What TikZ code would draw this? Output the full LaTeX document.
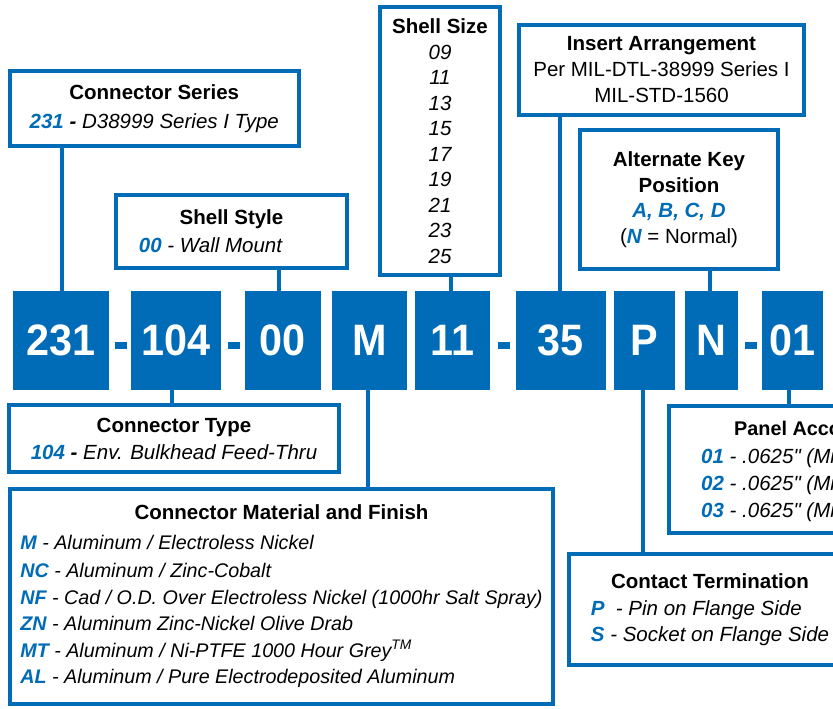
\documentclass[tikz,border=0pt]{standalone}
\usepackage{fontspec}
\setmainfont{Liberation Sans}
\newfontfamily\rawfont{Liberation Sans}
\definecolor{cblue}{RGB}{0,107,182}
\newcommand{\bk}[1]{{\color{cblue}\bfseries\itshape #1}}
\newcommand{\inch}{{\rawfont\itshape"}}
\begin{document}
\begin{tikzpicture}[x=1pt,y=-1pt,
  callout/.style={draw=cblue,line width=4pt,inner sep=0pt,fill=white,
    font=\fontsize{20.5}{26}\selectfont},
  code/.style={fill=cblue,inner sep=0pt,text=white,minimum height=99pt,
    font=\fontsize{44}{44}\selectfont\bfseries},
  dashbar/.style={fill=cblue,inner sep=0pt,minimum width=12pt,minimum height=7pt},
  link/.style={draw=cblue,line width=4pt},
  txt/.style={inner sep=0pt,font=\fontsize{20.5}{27}\selectfont}]
\useasboundingbox (0,0) rectangle (833,709);
\clip (0,0) rectangle (833,709);

% code blocks
\node[code,minimum width=96pt]   (c231) at (61,340.5)   {\scalebox{0.94}[1]{231}};
\node[code,minimum width=90pt]   (c104) at (176,340.5)  {\scalebox{0.94}[1]{104}};
\node[code,minimum width=76pt]   (c00)  at (283,340.5)  {\scalebox{0.94}[1]{00}};
\node[code,minimum width=75pt]   (cM)   at (369.5,340.5){\scalebox{0.94}[1]{M}};
\node[code,minimum width=75pt]   (c11)  at (452.5,340.5){\scalebox{0.94}[1]{11}};
\node[code,minimum width=89.5pt] (c35)  at (560.75,340.5){\scalebox{0.94}[1]{35}};
\node[code,minimum width=61pt]   (cP)   at (644.5,340.5){\scalebox{0.94}[1]{P}};
\node[code,minimum width=53pt]   (cN)   at (711.5,340.5){\scalebox{0.94}[1]{N}};
\node[code,minimum width=61pt]   (c01)  at (792.5,340.5){\scalebox{0.94}[1]{01}};

% dashes
\node[dashbar] (d1) at (121,345) {};
\node[dashbar] (d2) at (234,345) {};
\node[dashbar] (d3) at (504,345) {};
\node[dashbar] (d4) at (750.5,345) {};

% top callouts
\node[callout,minimum width=289.5pt,minimum height=75pt,align=center] (series) at (154.25,108.5)
  {\bfseries Connector Series\\[3pt] \bk{231} \itshape\bfseries -\mdseries\ D38999 Series I Type};
\node[callout,minimum width=231pt,minimum height=73pt,align=center] (style) at (231.5,231.5)
  {\bfseries Shell Style\\[2pt] \bk{00} \itshape - Wall Mount\hspace*{42pt}};
\node[callout,minimum width=120pt,minimum height=268pt,align=center,
  font=\fontsize{20.5}{25.5}\selectfont] (size) at (440,141)
  {\bfseries Shell Size\\ \itshape 09\\ \itshape 11\\ \itshape 13\\ \itshape 15\\ \itshape 17\\
   \itshape 19\\ \itshape 21\\ \itshape 23\\ \itshape 25};
\node[callout,minimum width=285pt,minimum height=90pt,align=center] (insert) at (661.5,70)
  {\bfseries Insert Arrangement\\ Per MIL-DTL-38999 Series I\\ MIL-STD-1560};
\node[callout,minimum width=198pt,minimum height=139pt,align=center] (altkey) at (679,199.5)
  {\bfseries Alternate Key\\ \bfseries Position\\[-1pt] \bk{A, B, C, D}\\ (\bk{N} = Normal)};

% bottom callouts
\node[callout,minimum width=330pt,minimum height=67pt,align=center] (type) at (174,438.5)
  {\bfseries Connector Type\\[1pt] \bk{104} \itshape\bfseries -\mdseries\ Env. Bulkhead Feed-Thru};
\node[callout,minimum width=543pt,minimum height=215pt,
  font=\fontsize{19.7}{26}\selectfont] (material) at (281.5,596.5)
  {\begin{tabular}{@{}l@{}}
   \multicolumn{1}{@{}c@{}}{\fontsize{20.5}{26}\selectfont\bfseries Connector Material and Finish}\\[4pt]
   \bk{M} \itshape - Aluminum / Electroless Nickel\\[1.5pt]
   \bk{NC} \itshape - Aluminum / Zinc-Cobalt\\[1pt]
   \bk{NF} \itshape - Cad / O.D. Over Electroless Nickel (1000hr Salt Spray)\\
   \bk{ZN} \itshape - Aluminum Zinc-Nickel Olive Drab\\[1pt]
   \bk{MT} \itshape - Aluminum / Ni-PTFE 1000 Hour Grey\textsuperscript{TM}\\
   \bk{AL} \itshape - Aluminum / Pure Electrodeposited Aluminum
   \end{tabular}};
\node[callout,minimum width=282pt,minimum height=111pt] (contact) at (710,609.5)
  {\begin{tabular}{@{}l@{}}
   \multicolumn{1}{@{}c@{}}{\bfseries Contact Termination}\\[1pt]
   \bk{P} \itshape\ - Pin on Flange Side\\
   \bk{S} \itshape - Socket on Flange Side
   \end{tabular}};
\node[callout,minimum width=231pt,minimum height=127pt] (panel) at (784.5,469.5) {};
\node[txt,anchor=west,font=\fontsize{19.8}{27}\selectfont] (paneltitle) at (734,428) {\bfseries Panel Acco};
\node[txt,anchor=west,align=left] (panellist) at (701,485)
  {\bk{01} \itshape - .0625\inch{} (Mi\\ \bk{02} \itshape - .0625\inch{} (Mi\\ \bk{03} \itshape - .0625\inch{} (Mi};

% connectors
\draw[link] (62,0 |- series.south) -- (62,0 |- c231.north);
\draw[link] (279,0 |- style.south) -- (279,0 |- c00.north);
\draw[link] (451,0 |- size.south) -- (451,0 |- c11.north);
\draw[link] (560,0 |- insert.south) -- (560,0 |- c35.north);
\draw[link] (710,0 |- altkey.south) -- (710,0 |- cN.north);
\draw[link] (172,0 |- c104.south) -- (172,0 |- type.north);
\draw[link] (368,0 |- cM.south) -- (368,0 |- material.north);
\draw[link] (643,0 |- cP.south) -- (643,0 |- contact.north);
\draw[link] (789,0 |- c01.south) -- (789,0 |- panel.north);
\end{tikzpicture}
\end{document}
